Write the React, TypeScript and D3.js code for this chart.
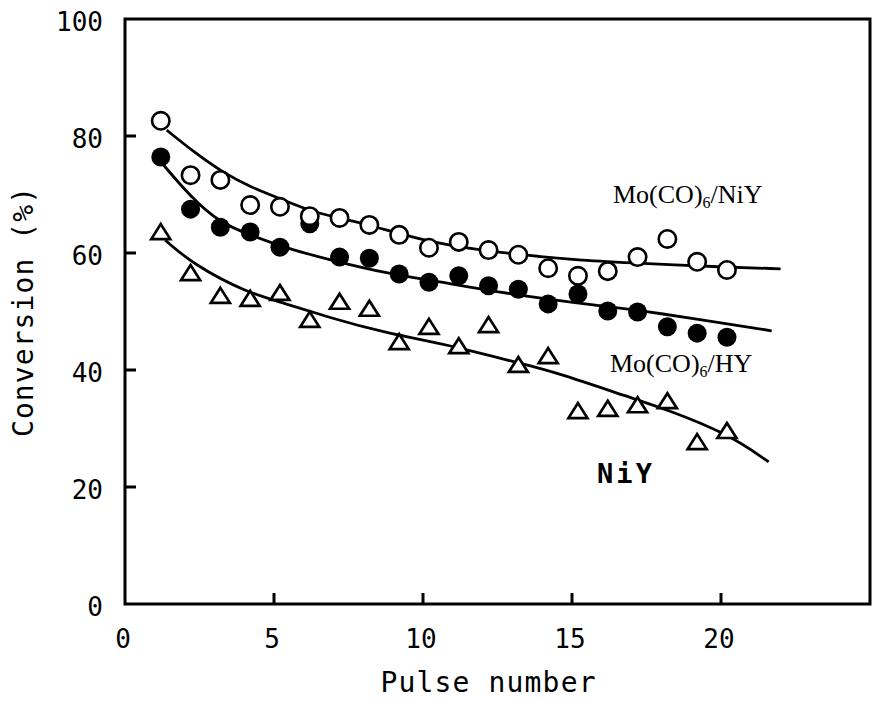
import React from "react";
import * as d3 from "d3";

const pulses = [1.2, 2.2, 3.2, 4.2, 5.2, 6.2, 7.2, 8.2, 9.2, 10.2, 11.2, 12.2, 13.2, 14.2, 15.2, 16.2, 17.2, 18.2, 19.2, 20.2];
const moNiY = [82.6, 73.3, 72.5, 68.2, 67.9, 66.3, 66.0, 64.8, 63.1, 60.9, 61.9, 60.5, 59.7, 57.4, 56.1, 56.9, 59.3, 62.4, 58.5, 57.1];
const moHY = [76.4, 67.5, 64.4, 63.6, 61.0, 65.0, 59.3, 59.1, 56.4, 55.0, 56.1, 54.4, 53.8, 51.3, 53.0, 50.1, 49.9, 47.4, 46.3, 45.6];
const niY = [63.4, 56.4, 52.5, 52.0, 53.0, 48.4, 51.5, 50.3, 44.6, 47.2, 43.9, 47.5, 40.7, 42.2, 32.8, 33.2, 33.8, 34.5, 27.5, 29.4];

const fitMoNiYX = [1.4, 2.3, 3.3, 4.2, 5.3, 6.3, 7.2, 8.2, 10.1, 11.9, 13.3, 15.3, 17.5, 20, 22];
const fitMoNiYY = [81.0, 77.3, 73.7, 71.3, 69.1, 67.0, 66.0, 64.8, 62.0, 60.5, 59.7, 58.7, 58.2, 57.6, 57.3];
const fitMoHYX = [1.3, 2.2, 3.2, 4.2, 5.3, 7.1, 8.9, 10.2, 13.1, 15.9, 17.6, 21.7];
const fitMoHYY = [75.0, 69.6, 65.1, 63.1, 61.0, 58.5, 56.4, 55.4, 52.8, 51.0, 50.0, 46.7];
const fitNiYX = [1.35, 2.3, 4.1, 5.3, 6.9, 8.6, 11.2, 13.2, 14.4, 17.0, 18.1, 20.2, 21.6];
const fitNiYY = [62.2, 58.0, 53.2, 51.5, 48.9, 46.5, 43.9, 41.2, 39.7, 35.2, 33.4, 29.2, 24.3];

const xTicks = [0, 5, 10, 15, 20];
const yTicks = [0, 20, 40, 60, 80, 100];

const W = 875;
const H = 702;

export default function App() {
  const x = d3.scaleLinear().domain([0, 25]).range([125, 870]);
  const y = d3.scaleLinear().domain([0, 100]).range([604, 19]);
  const line = d3
    .line<[number, number]>()
    .x((d) => x(d[0]))
    .y((d) => y(d[1]))
    .curve(d3.curveBasis);
  const pts = (xs: number[], ys: number[]) => xs.map((v, i) => [v, ys[i]] as [number, number]);
  const mono = "'DejaVu Sans Mono', monospace";
  const serif = "'Liberation Serif', 'Times New Roman', serif";
  const tri = (cx: number, cy: number) => {
    const w = 9.5, h = 15;
    return `M${cx},${cy - h * 0.6}L${cx + w},${cy + h * 0.4}L${cx - w},${cy + h * 0.4}Z`;
  };
  return (
    <div style={{ position: "absolute", left: 0, top: 0 }}>
      <svg width={W} height={H} style={{ display: "block", background: "#fff" }}>
        <rect x={x(0)} y={y(100)} width={x(25) - x(0)} height={y(0) - y(100)} fill="none" stroke="#000" strokeWidth={3} />
        {yTicks.filter((t) => t > 0 && t < 100).map((t) => (
          <line key={"yt" + t} x1={x(0)} x2={x(0) + 11} y1={y(t)} y2={y(t)} stroke="#000" strokeWidth={3} />
        ))}
        {xTicks.filter((t) => t > 0).map((t) => (
          <line key={"xt" + t} x1={x(t)} x2={x(t)} y1={y(0)} y2={y(0) - 11} stroke="#000" strokeWidth={3} />
        ))}
        {yTicks.map((t) => (
          <text key={"yl" + t} x={103} y={y(t) + 3} textAnchor="end" dominantBaseline="central" fontFamily={mono} fontSize={26}>
            {t}
          </text>
        ))}
        {xTicks.map((t) => (
          <text key={"xl" + t} x={x(t) - 2} y={639} textAnchor="middle" dominantBaseline="central" fontFamily={mono} fontSize={26}>
            {t}
          </text>
        ))}
        <text x={488} y={692} textAnchor="middle" fontFamily={mono} fontSize={28} textLength={215}>
          Pulse number
        </text>
        <text transform="translate(33,312) rotate(-90)" textAnchor="middle" fontFamily={mono} fontSize={28} textLength={250}>
          Conversion (%)
        </text>
        <path d={line(pts(fitMoNiYX, fitMoNiYY)) || ""} fill="none" stroke="#000" strokeWidth={2.8} />
        <path d={line(pts(fitMoHYX, fitMoHYY)) || ""} fill="none" stroke="#000" strokeWidth={2.8} />
        <path d={line(pts(fitNiYX, fitNiYY)) || ""} fill="none" stroke="#000" strokeWidth={2.8} />
        {pulses.map((p, i) => (
          <path key={"t" + i} d={tri(x(p), y(niY[i]))} fill="#fff" stroke="#000" strokeWidth={2.7} strokeLinejoin="miter" />
        ))}
        {pulses.map((p, i) => (
          <circle key={"f" + i} cx={x(p)} cy={y(moHY[i])} r={9.5} fill="#000" />
        ))}
        {pulses.map((p, i) => (
          <circle key={"o" + i} cx={x(p)} cy={y(moNiY[i])} r={8.7} fill="#fff" stroke="#000" strokeWidth={2.6} />
        ))}
        <text x={613} y={203} fontFamily={serif} fontSize={26}>
          Mo(CO)<tspan fontSize={16} dy={5}>6</tspan><tspan dy={-5}>/NiY</tspan>
        </text>
        <text x={610} y={372} fontFamily={serif} fontSize={26}>
          Mo(CO)<tspan fontSize={16} dy={5}>6</tspan><tspan dy={-5}>/HY</tspan>
        </text>
        <text x={597} y={483} fontFamily={mono} fontSize={27} fontWeight={600} textLength={55}>
          NiY
        </text>
      </svg>
    </div>
  );
}
